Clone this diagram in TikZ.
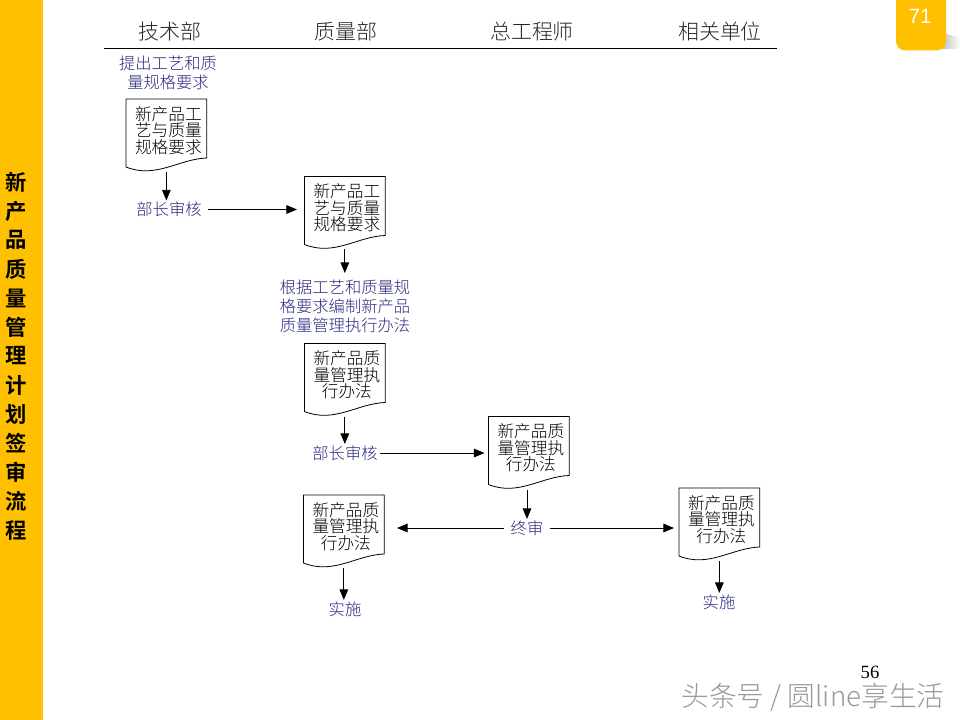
\documentclass[tikz,border=0pt]{standalone}
\usepackage{fontspec}
\setmainfont{Liberation Serif}
\newfontfamily\cjk{Noto Sans CJK SC Light}
\newfontfamily\cjkbold{Noto Sans CJK SC Bold}
\newfontfamily\arialf{Liberation Sans}
\usetikzlibrary{arrows.meta,calc}
\definecolor{stripc}{HTML}{FFC000}
\definecolor{labelc}{HTML}{2A2A80}
\normallineskiplimit=-20pt
\AtBeginDocument{\lineskiplimit=-20pt \normallineskiplimit=-20pt}
\tikzset{
  x=0.75pt,y=-0.75pt,
  docbox/.style={minimum width=60.5pt,minimum height=54.75pt,inner sep=0pt,outer sep=0pt,anchor=north west},
  doctext/.style={align=center,font=\cjk\fontsize{12.5}{12.4}\selectfont,text=black},
  steplabel/.style={align=center,font=\cjk\fontsize{12.2}{14}\selectfont,text=labelc,inner sep=1pt},
  header/.style={font=\cjk\fontsize{15.7}{15.7}\selectfont,text=black!85,inner sep=0pt},
  flow/.style={-{Triangle[length=8pt,width=6.5pt]},line width=0.7pt,black},
  docline/.style={draw=black,line width=0.6pt,fill=white}
}
\newcommand{\docshape}[4]{%
  \node[docbox] (#1) at (#2,#3) {};
  \draw[docline] (#1.north west) -- (#1.north east) -- ($(#1.south east)+(0,-14)$)
    .. controls ($(#1.south east)+(-28,-13)$) and ($(#1.south west)+(30,7)$) .. ($(#1.south west)+(0,-5)$) -- cycle;
  \node[doctext] at ($(#1.center)+(2,-5)$) {#4};
}
\begin{document}
\begin{tikzpicture}
\useasboundingbox (0,0) rectangle (960,720);
\fill[white] (0,0) rectangle (960,720);
\fill[stripc] (0,0) rectangle (43,720);
% side title
\foreach \ch [count=\i from 0] in {新,产,品,质,量,管,理,计,划,签,审,流,程}
  \node[font=\cjkbold\fontsize{16}{16}\selectfont,text=black,inner sep=0pt] (t\i) at (16.5,{182+\i*29}) {\ch};
% page badge shadow
\shade[left color=black!28,right color=white,draw=none] (940,32) -- (960,38) -- (960,49) -- (940,49) -- cycle;
\fill[stripc,rounded corners=7pt] (896,-12) rectangle (946,50.5);
\node[font=\arialf\fontsize{15.5}{15.5}\selectfont,text=white,inner sep=0pt] (badge) at (920,16) {71};
% header
\node[header] (h1) at (170,31.5) {技术部};
\node[header] (h2) at (346,31.5) {质量部};
\node[header] (h3) at (532,31.5) {总工程师};
\node[header] (h4) at (720,31.5) {相关单位};
\coordinate (ruleL) at (104,48.5);
\coordinate (ruleR) at (777,48.5);
\draw[line width=0.9pt,black] (ruleL) -- (ruleR);
% labels
\node[steplabel] (l1) at (168,73) {提出工艺和质\\量规格要求};
\node[steplabel] (l2) at (169,209.5) {部长审核};
\node[steplabel] (l3) at (345,306.5) {根据工艺和质量规\\格要求编制新产品\\质量管理执行办法};
\node[steplabel] (l4) at (345,453) {部长审核};
\node[steplabel] (l5) at (527,528) {终审};
\node[steplabel] (l6) at (345,609) {实施};
\node[steplabel] (l7) at (719,602) {实施};
% documents
\docshape{d1}{126}{99}{新产品工\\艺与质量\\规格要求}
\docshape{d2}{304.5}{176.5}{新产品工\\艺与质量\\规格要求}
\docshape{d3}{304.5}{343.5}{新产品质\\量管理执\\行办法}
\docshape{d4}{488.5}{416.5}{新产品质\\量管理执\\行办法}
\docshape{d5}{303.5}{495}{新产品质\\量管理执\\行办法}
\docshape{d6}{679}{488}{新产品质\\量管理执\\行办法}
% connectors
\coordinate (a2e) at (297,209);
\coordinate (a3e) at (345,273);
\coordinate (a5l) at (397,528);
\coordinate (a5r) at (674,528);
\draw[flow] (d1.south) -- (d1.south |- l2.north);
\draw[flow] ($(l2.east)+(5,0)$) -- (a2e |- l2.east);
\draw[flow] (d2.south) -- (d2.south |- a3e);
\draw[flow] (d3.south) -- (d3.south |- l4.north);
\draw[flow] ($(l4.east)+(1,0)$) -- ($(d4.west |- l4.east)+(-4,0)$);
\draw[flow] (d4.south -| l5.north) -- (l5.north);
\draw[flow] ($(l5.west)+(-5,0)$) -- (a5l |- l5.west);
\draw[flow] ($(l5.east)+(5,0)$) -- (a5r |- l5.east);
\draw[flow] (d5.south) -- (d5.south |- l6.north);
\draw[flow] (d6.south) -- (d6.south |- l7.north);
% page number and watermark
\node[font=\fontsize{14}{14}\selectfont,inner sep=0pt] (pg) at (870,672.5) {56};
\node[font=\cjk\fontsize{20.8}{20.8}\selectfont,text=black!40,inner sep=0pt] (wm) at (813,697) {头条号 / 圆line享生活};
\end{tikzpicture}
\end{document}
